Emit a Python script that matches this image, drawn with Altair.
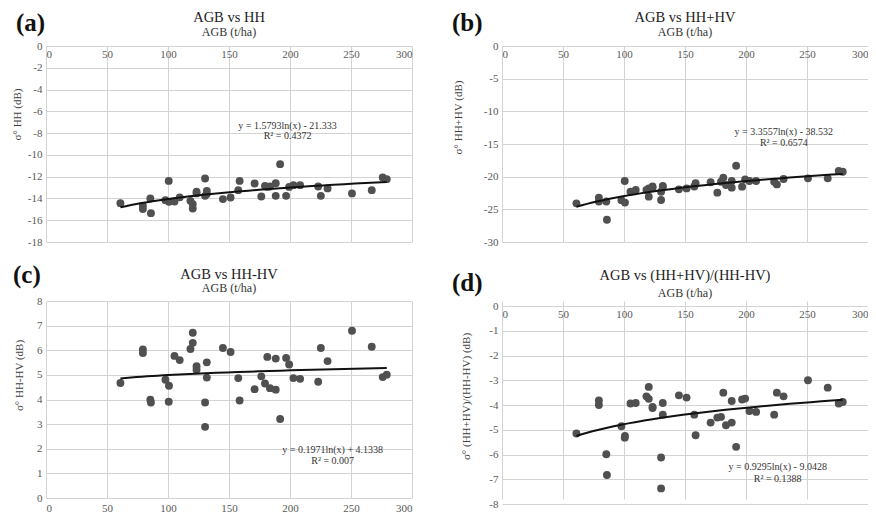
import altair as alt
import pandas as pd

FONT = "Liberation Serif"

# AGB (t/ha) of the sampled plots
agb = [61, 79.4, 79.4, 85.5, 86, 97.9, 100.8, 100.6, 105.3, 109.6, 118.4, 120.3, 120.3,
       123.4, 123.4, 130.4, 130.4, 131.8, 131.8, 145, 151.3, 157.6, 158.7, 171, 176.5,
       179.5, 181.4, 183.6, 188.3, 188.3, 191.9, 196.8, 199.3, 202.8, 208.3, 223.1,
       225.3, 230.8, 250.8, 267, 276, 279.3]
# sigma0 HH (dB)
hh = [-14.43, -14.68, -14.98, -14.0, -15.35, -14.16, -14.31, -12.39, -14.28, -13.9,
      -14.22, -14.52, -14.92, -13.54, -13.39, -12.17, -13.76, -13.3, -13.6, -14.06,
      -13.91, -13.24, -12.39, -12.63, -13.82, -12.84, -12.94, -12.9, -12.6, -13.76,
      -10.85, -13.76, -12.94, -12.78, -12.78, -12.9, -13.76, -13.08, -13.54, -13.24,
      -12.08, -12.23]
# sigma0 HH+HV (dB)
hh_plus_hv = [-24.08, -23.2, -23.8, -23.8, -26.6, -23.6, -23.97, -20.67, -22.3, -22.05,
              -22.05, -21.8, -23.06, -21.5, -21.7, -23.58, -22.3, -21.4, -21.6, -21.94,
              -21.8, -21.5, -21.0, -20.85, -22.45, -20.77, -20.16, -21.28, -20.67, -21.68,
              -18.32, -21.53, -20.41, -20.67, -20.67, -20.77, -21.18, -20.36, -20.26, -20.26,
              -19.14, -19.24]
# sigma0 HH-HV (dB)
hh_minus_hv = [4.67, 6.03, 5.89, 3.99, 3.88, 4.80, 4.56, 3.91, 5.77, 5.60, 6.05, 6.71, 6.30,
               5.35, 5.21, 3.88, 2.89, 5.51, 4.89, 6.09, 5.93, 4.87, 3.96, 4.42, 4.94, 4.65,
               5.73, 4.46, 5.66, 4.40, 3.21, 5.69, 5.42, 4.87, 4.84, 4.72, 6.09, 5.56, 6.79,
               6.14, 4.91, 5.01]
# sigma0 (HH+HV)/(HH-HV) (dB)
ratio = [-5.15, -3.82, -4.0, -5.99, -6.83, -4.86, -5.25, -5.32, -3.94, -3.92, -3.65, -3.27,
         -3.75, -4.08, -4.12, -6.12, -7.37, -3.92, -4.39, -3.61, -3.70, -4.39, -5.22, -4.71,
         -4.51, -4.48, -3.5, -4.82, -3.84, -4.71, -5.69, -3.78, -3.74, -4.24, -4.28, -4.39,
         -3.5, -3.65, -3.0, -3.3, -3.94, -3.88]

x_ticks = [0, 50, 100, 150, 200, 250, 300]

df = pd.DataFrame({"agb": agb, "hh": hh, "hhp": hh_plus_hv, "hhm": hh_minus_hv, "rat": ratio})

W = 366
LABEL_COLOR = "#595959"
GRID = "#d3d3d3"


def panel(col, ydom, yticks, ytitle, ttl, letter, eq, eqpos, xtop, h,
          ytpad, yty, lx, ly, toff, subpad, inset=0):
    xs = alt.Scale(domain=[0, 300], nice=False, zero=False)
    if inset:
        ys = alt.Scale(domain=ydom, nice=False, zero=False, range=[h, inset])
    else:
        ys = alt.Scale(domain=ydom, nice=False, zero=False)
    xaxis = alt.Axis(values=x_ticks, tickCount=20, orient="bottom",
                     offset=(-(h - inset) if xtop else 0), title=None,
                     grid=True, ticks=False, domain=False, labelOverlap=False,
                     labelPadding=(2 if xtop else 4), labelFlush=True,
                     labelFont=FONT, labelFontSize=11, labelColor=LABEL_COLOR,
                     gridColor=GRID)
    yaxis = alt.Axis(values=yticks, tickCount=30, title=ytitle, titlePadding=ytpad,
                     titleY=yty, ticks=False, domain=False, labelPadding=4,
                     labelOverlap=False, labelFlush=False,
                     labelExpr="'' + datum.value", labelFont=FONT, labelFontSize=11,
                     labelColor=LABEL_COLOR, titleFont=FONT, titleFontSize=11,
                     titleColor="#404040", titleFontWeight="normal", gridColor=GRID)
    base = alt.Chart(df)
    pts = base.mark_circle(size=62, color="#505050", opacity=1).encode(
        x=alt.X("agb:Q", scale=xs, axis=xaxis),
        y=alt.Y(f"{col}:Q", scale=ys, axis=yaxis),
    )
    trend = base.transform_regression("agb", col, method="log").mark_line(
        color="#111111", strokeWidth=2
    ).encode(x="agb:Q", y=f"{col}:Q")
    eqdf = pd.DataFrame({"agb": [eqpos[0], eqpos[0]], col: [eqpos[1], eqpos[2]], "t": eq})
    eqt = alt.Chart(eqdf).mark_text(font=FONT, fontSize=10, color="#333333").encode(
        x="agb:Q", y=f"{col}:Q", text="t:N"
    )
    lab = alt.Chart(pd.DataFrame({"t": [letter]})).mark_text(
        font=FONT, fontSize=25, fontWeight="bold", align="left", baseline="middle",
        color="#111111"
    ).encode(x=alt.value(lx), y=alt.value(ly), text="t:N")
    return alt.layer(pts, trend, eqt, lab).properties(
        width=W, height=h,
        title=alt.TitleParams(ttl, subtitle="AGB (t/ha)", frame="group", anchor="middle",
                              offset=toff, subtitlePadding=subpad, font=FONT,
                              subtitleFont=FONT, fontSize=14.5, subtitleFontSize=12,
                              fontWeight="normal", color="#222222", subtitleColor="#333333"),
    )


pa = panel("hh", [-18, 0], list(range(-18, 1, 2)), "σ° HH (dB)", "AGB vs HH", "(a)",
           ["y = 1.5793ln(x)  - 21.333", "R² = 0.4372"], (198, -7.34, -8.3), True, 196,
           5, 68, -30, -23, -28, 1.5)
pb = panel("hhp", [-30, 0], list(range(-30, 1, 5)), "σ° HH+HV (dB)", "AGB vs HH+HV", "(b)",
           ["y = 3.3557ln(x)  - 38.532", "R² = 0.6574"], (231, -13.1, -14.8), True, 196,
           20, 71, -50, -23, -28, 1.5)
pc = panel("hhm", [0, 8], list(range(0, 9, 1)), "σ° HH-HV (dB)", "AGB vs HH-HV", "(c)",
           ["y = 0.1971ln(x)  + 4.1338", "R² = 0.007"], (235, 1.95, 1.52), False, 197,
           12, 74, -33, -26.5, -32, 0)
pd_ = panel("rat", [-8, 0], list(range(-8, 1, 1)), "σ° (HH+HV)/(HH-HV) (dB)",
            "AGB vs (HH+HV)/(HH-HV)", "(d)",
            ["y = 0.9295ln(x)  - 9.0428", "R² = 0.1388"], (226, -6.5, -6.98), True, 203,
            17, 95, -50, -18.5, -29.5, 5, inset=5)

row1 = alt.hconcat(pa, pb, spacing=40)
row2 = alt.hconcat(pc, pd_, spacing=40)

chart = alt.vconcat(row1, row2, spacing=15).properties(
    padding={"left": 3, "top": 2, "right": 0, "bottom": 0}
).configure_view(stroke=None).configure_axis(
    labelFont=FONT, labelFontSize=11, labelColor=LABEL_COLOR,
    titleFont=FONT, titleFontSize=11, titleColor="#404040", titleFontWeight="normal",
    gridColor=GRID, gridWidth=1,
)

chart.save("out.html", embed_options={"renderer": "svg", "actions": False})
